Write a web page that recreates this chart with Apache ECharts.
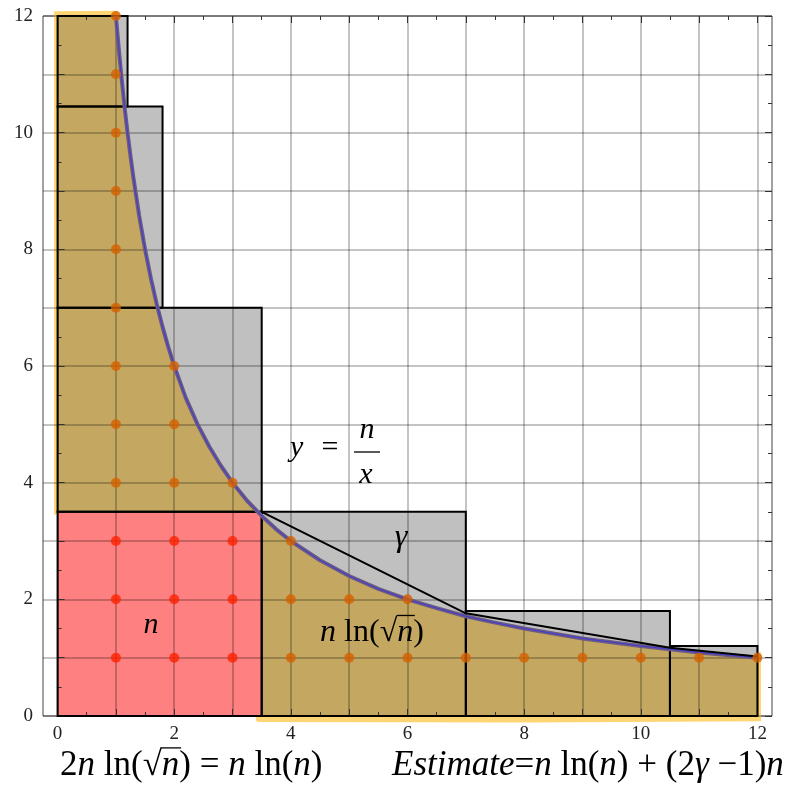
<!DOCTYPE html>
<html><head><meta charset="utf-8">
<script src="https://cdn.jsdelivr.net/npm/echarts@6/dist/echarts.min.js"></script>
<style>html,body{margin:0;padding:0;background:#fff}#c{width:788px;height:788px}</style>
</head><body><div id="c"></div>
<script>
// ---- data ----
const axisTicks = [0, 2, 4, 6, 8, 10, 12];
// upper-bound rectangles [x0, x1, y0, y1]
const leftRects = [[0, 1.2, 10.45, 12], [0, 1.8, 7, 10.45], [0, 3.5, 3.5, 7]];
const rightRects = [[3.5, 7, 0, 3.5], [7, 10.5, 0, 1.8], [10.5, 12, 0, 1.2]];
const squareRect = [[0, 3.5, 0, 3.5]];
// points read along the curve y = n/x  (n = 12)
const curveX = [1, 1.05, 1.1, 1.15, 1.2, 1.25, 1.3, 1.4, 1.5, 1.6, 1.7, 1.8, 1.9, 2, 2.2, 2.4, 2.6, 2.8, 3, 3.25, 3.5, 3.75, 4, 4.5, 5, 5.5, 6, 6.5, 7, 7.5, 8, 9, 10, 11, 12];
const curveY = [12, 11.43, 10.91, 10.43, 10, 9.6, 9.23, 8.57, 8, 7.5, 7.06, 6.67, 6.32, 6, 5.45, 5, 4.62, 4.29, 4, 3.69, 3.43, 3.2, 3, 2.67, 2.4, 2.18, 2, 1.85, 1.71, 1.6, 1.5, 1.33, 1.2, 1.09, 1];
// chord polyline
const chordX = [3.5, 7, 10.5, 12];
const chordY = [3.5, 1.76, 1.17, 1.02];
// lattice points under the curve
const redDots = [[1,1],[1,2],[1,3],[2,1],[2,2],[2,3],[3,1],[3,2],[3,3]];
const orangeDots = [[1,4],[1,5],[1,6],[1,7],[1,8],[1,9],[1,10],[1,11],[1,12],
  [2,4],[2,5],[2,6],[3,4],[4,1],[4,2],[4,3],[5,1],[5,2],[6,1],[6,2],
  [7,1],[8,1],[9,1],[10,1],[11,1],[12,1]];
// highlight strokes round the region
const glowLeft = [[-0.05, 3.5], [-0.06, 8], [-0.04, 12.03], [1.0, 12.04]];
const glowBottom = [[3.45, -0.05], [8, -0.06], [12.06, -0.04], [12.06, 1.05]];

// ---- helpers ----
const FF = '"Liberation Serif","Times New Roman",serif';
const mctx = document.createElement('canvas').getContext('2d');
function tw(t, it, size) { mctx.font = (it ? 'italic ' : '') + size + 'px ' + FF; return mctx.measureText(t).width; }
function mathRow(tokens, x, baseline, size, align) {
  const widths = tokens.map(tk => tw(tk[0], tk[1] !== 'r', size));
  const total = widths.reduce((a, b) => a + b, 0);
  let cx = align === 'center' ? x - total / 2 : align === 'right' ? x - total : x;
  const els = [];
  tokens.forEach((tk, k) => {
    const it = tk[1] !== 'r';
    els.push({ type: 'text', z: 100, style: { text: tk[0], x: cx, y: baseline - 0.3375 * size,
      font: (it ? 'italic ' : '') + size + 'px ' + FF, fill: '#000', align: 'left', verticalAlign: 'middle' } });
    if (tk[1] === 'o') {
      els.push({ type: 'line', z: 100, shape: { x1: cx - 0.02 * size, y1: baseline - 0.86 * size, x2: cx + widths[k] + 0.05 * size, y2: baseline - 0.86 * size },
        style: { stroke: '#000', lineWidth: 1.3 } });
    }
    cx += widths[k];
  });
  return els;
}

const rectSeries = (data, style, z) => ({
  type: 'custom', xAxisIndex: 1, yAxisIndex: 2, z: z, silent: true,
  encode: { x: [0, 1], y: [2, 3] },
  renderItem: function (params, api) {
    const p0 = api.coord([api.value(0), api.value(2)]);
    const p1 = api.coord([api.value(1), api.value(3)]);
    return { type: 'rect', shape: { x: p0[0], y: p1[1], width: p1[0] - p0[0], height: p0[1] - p1[1] }, style: style };
  },
  data: data
});

const gridCol = 'rgba(0,0,0,0.23)';
const tickStyle = { color: '#333', width: 1 };
const labelStyle = { fontFamily: FF, fontSize: 19, color: '#222', formatter: v => (axisTicks.indexOf(v) >= 0 ? String(v) : '') };

const areaData = [[0, 12]].concat(curveX.map((x, i) => [x, curveY[i]]));
const curveData = curveX.map((x, i) => [x, curveY[i]]);
const chordData = chordX.map((x, i) => [x, chordY[i]]);

const graphics = [].concat(
  mathRow([['y', 'i']], 290, 458, 30, 'left'),
  mathRow([['=', 'r']], 330, 458, 30, 'center'),
  mathRow([['n', 'i']], 367, 440, 30, 'center'),
  mathRow([['x', 'i']], 366, 485, 30, 'center'),
  [{ type: 'line', z: 100, shape: { x1: 354, y1: 452, x2: 380, y2: 452 }, style: { stroke: '#000', lineWidth: 1.3 } }],
  mathRow([['γ', 'i']], 401, 548, 32, 'center'),
  mathRow([['n', 'i']], 151, 635, 30, 'center'),
  mathRow([['n', 'i'], [' ln(', 'r'], ['√', 'r'], ['n', 'o'], [')', 'r']], 372, 643, 32, 'center'),
  mathRow([['2', 'r'], ['n', 'i'], [' ln(', 'r'], ['√', 'r'], ['n', 'o'], [')', 'r'], [' = ', 'r'], ['n', 'i'], [' ln(', 'r'], ['n', 'i'], [')', 'r']], 60, 778, 35, 'left'),
  mathRow([['Estimate', 'i'], ['=', 'r'], ['n', 'i'], [' ln(', 'r'], ['n', 'i'], [') + (2', 'r'], ['γ', 'i'], [' −1)', 'r'], ['n', 'i']], 392, 778, 35, 'left')
);

const chart = echarts.init(document.getElementById('c'), null, { renderer: 'canvas' });
chart.setOption({
  animation: false,
  backgroundColor: '#fff',
  grid: [
    { left: 43, top: 16, width: 729, height: 700, show: true, borderColor: '#444', borderWidth: 1, backgroundColor: 'transparent' },
    { left: 57.58, top: 16, width: 699.84, height: 700 }
  ],
  xAxis: [
    { gridIndex: 0, type: 'value', min: -0.25, max: 12.25, show: false },
    { gridIndex: 1, type: 'value', min: 0, max: 12, interval: 1, position: 'bottom', z: 4,
      axisLine: { show: false }, axisTick: { inside: true, length: 7, lineStyle: tickStyle },
      minorTick: { show: true, splitNumber: 2, length: 4, lineStyle: tickStyle },
      splitLine: { show: true, lineStyle: { color: gridCol, width: 2 } },
      axisLabel: Object.assign({ margin: 9 }, labelStyle) },
    { gridIndex: 1, type: 'value', min: 0, max: 12, interval: 1, position: 'top', z: 4,
      axisLine: { show: false }, axisTick: { inside: true, length: 7, lineStyle: tickStyle },
      minorTick: { show: true, splitNumber: 2, length: 4, lineStyle: tickStyle },
      splitLine: { show: false }, axisLabel: { show: false } }
  ],
  yAxis: [
    { gridIndex: 0, type: 'value', min: 0, max: 12, interval: 1, position: 'left', z: 4,
      axisLine: { show: false }, axisTick: { inside: true, length: 7, lineStyle: tickStyle },
      minorTick: { show: true, splitNumber: 2, length: 4, lineStyle: tickStyle },
      splitLine: { show: true, lineStyle: { color: gridCol, width: 2 } },
      axisLabel: Object.assign({ margin: 10 }, labelStyle) },
    { gridIndex: 0, type: 'value', min: 0, max: 12, interval: 1, position: 'right', z: 4,
      axisLine: { show: false }, axisTick: { inside: true, length: 7, lineStyle: tickStyle },
      minorTick: { show: true, splitNumber: 2, length: 4, lineStyle: tickStyle },
      splitLine: { show: false }, axisLabel: { show: false } },
    { gridIndex: 1, type: 'value', min: 0, max: 12, show: false }
  ],
  series: [
    rectSeries(leftRects.concat(rightRects), { fill: '#c0c0c0' }, 1),
    { type: 'line', xAxisIndex: 1, yAxisIndex: 2, z: 2, data: areaData, symbol: 'none', smooth: false,
      lineStyle: { width: 0 }, areaStyle: { color: '#c4a861', opacity: 1 }, silent: true },
    rectSeries(squareRect, { fill: '#ff8080' }, 3),
    { type: 'line', xAxisIndex: 1, yAxisIndex: 2, z: 1, data: glowLeft, symbol: 'none', clip: false,
      lineStyle: { color: 'rgba(255,205,90,0.85)', width: 6, cap: 'round', join: 'round' }, silent: true },
    { type: 'line', xAxisIndex: 1, yAxisIndex: 2, z: 1, data: glowBottom, symbol: 'none', clip: false,
      lineStyle: { color: 'rgba(255,205,90,0.85)', width: 6, cap: 'round', join: 'round' }, silent: true },
    rectSeries(leftRects.concat(rightRects, squareRect), { fill: 'none', stroke: '#000', lineWidth: 2 }, 5),
    { type: 'line', xAxisIndex: 1, yAxisIndex: 2, z: 6, data: curveData, symbol: 'none', smooth: false,
      lineStyle: { color: '#6e5c80', width: 4, join: 'round' }, silent: true },
    { type: 'line', xAxisIndex: 1, yAxisIndex: 2, z: 6, data: curveData, symbol: 'none', smooth: false,
      lineStyle: { color: '#2a2aff', width: 0.7, join: 'round' }, silent: true },
    { type: 'line', xAxisIndex: 1, yAxisIndex: 2, z: 6, data: chordData, symbol: 'none',
      lineStyle: { color: '#000', width: 2 }, silent: true },
    { type: 'scatter', xAxisIndex: 1, yAxisIndex: 2, z: 7, data: redDots, symbolSize: 10, itemStyle: { color: '#ff2200' }, silent: true },
    { type: 'scatter', xAxisIndex: 1, yAxisIndex: 2, z: 7, data: orangeDots, symbolSize: 10, itemStyle: { color: '#d66000' }, silent: true }
  ],
  graphic: graphics
});
</script></body></html>
